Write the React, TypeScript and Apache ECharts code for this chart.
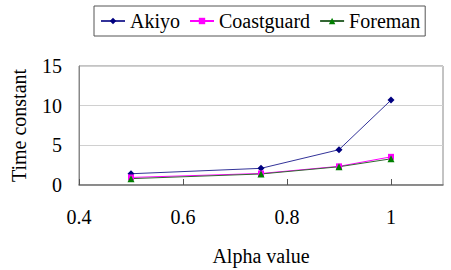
import React, { useEffect, useRef } from "react";
import * as echarts from "echarts";

const alpha = [0.5, 0.75, 0.9, 1.0];
const seriesNames = ["Akiyo", "Coastguard", "Foreman"];
const akiyo = [1.42, 2.1, 4.45, 10.7];
const coastguard = [0.95, 1.45, 2.35, 3.55];
const foreman = [0.8, 1.39, 2.3, 3.3];
const yTicks = [0, 5, 10, 15];
const xTicks = [0.4, 0.6, 0.8, 1];

const FONT = "Liberation Serif";
const FS = 20;

export default function App() {
  const ref = useRef<HTMLDivElement>(null);
  useEffect(() => {
    if (!ref.current) return;
    const chart = echarts.init(ref.current, undefined, { renderer: "svg" });
    const mk = (vals: number[]) => vals.map((v, i) => [alpha[i], v]);
    const txt = { fontFamily: FONT, fontSize: FS, color: "#000" };
    chart.setOption({
      animation: false,
      backgroundColor: "#ffffff",
      textStyle: { fontFamily: FONT, fontSize: FS },
      legend: {
        data: seriesNames,
        top: 6,
        left: 94,
        padding: [5, 5, 5, 6],
        borderColor: "#555",
        borderWidth: 1,
        itemWidth: 24,
        itemHeight: 8,
        itemGap: 9,
        textStyle: txt,
      },
      grid: {
        left: 79,
        right: 8,
        top: 66,
        bottom: 85,
        show: true,
        borderColor: "#888",
        borderWidth: 1,
      },
      xAxis: {
        type: "value",
        min: xTicks[0],
        max: 1.1,
        interval: 0.2,
        name: "Alpha value",
        nameLocation: "middle",
        nameGap: 61,
        nameTextStyle: txt,
        axisLine: { show: true, lineStyle: { color: "#777", width: 1.5 } },
        axisTick: { show: true, inside: true, length: 6, lineStyle: { color: "#555" } },
        axisLabel: {
          ...txt,
          margin: 22,
          showMaxLabel: false,
          formatter: (v: number) => (xTicks.some((t) => Math.abs(t - v) < 1e-6) ? String(+v.toFixed(1)) : ""),
        },
        splitLine: { show: false },
      },
      yAxis: {
        type: "value",
        min: yTicks[0],
        max: yTicks[yTicks.length - 1],
        interval: 5,
        name: "Time constant",
        nameLocation: "middle",
        nameGap: 50,
        nameTextStyle: txt,
        axisLine: { show: true, lineStyle: { color: "#888" } },
        axisTick: { show: false },
        axisLabel: { ...txt, margin: 17 },
        splitLine: { show: true, lineStyle: { color: "#d0d0d0" } },
      },
      series: [
        {
          name: seriesNames[0],
          type: "line",
          data: mk(akiyo),
          symbol: "diamond",
          symbolSize: 7,
          itemStyle: { color: "#000080" },
          lineStyle: { color: "#333399", width: 1 },
        },
        {
          name: seriesNames[1],
          type: "line",
          data: mk(coastguard),
          symbol: "rect",
          symbolSize: 6,
          itemStyle: { color: "#ff00ff" },
          lineStyle: { color: "#ff00ff", width: 1 },
        },
        {
          name: seriesNames[2],
          type: "line",
          data: mk(foreman),
          symbol: "triangle",
          symbolSize: 7,
          itemStyle: { color: "#008000" },
          lineStyle: { color: "#336633", width: 1 },
        },
      ],
    });
    return () => chart.dispose();
  }, []);
  return <div ref={ref} style={{ width: 451, height: 270, position: "absolute", left: 0, top: 0 }} />;
}
